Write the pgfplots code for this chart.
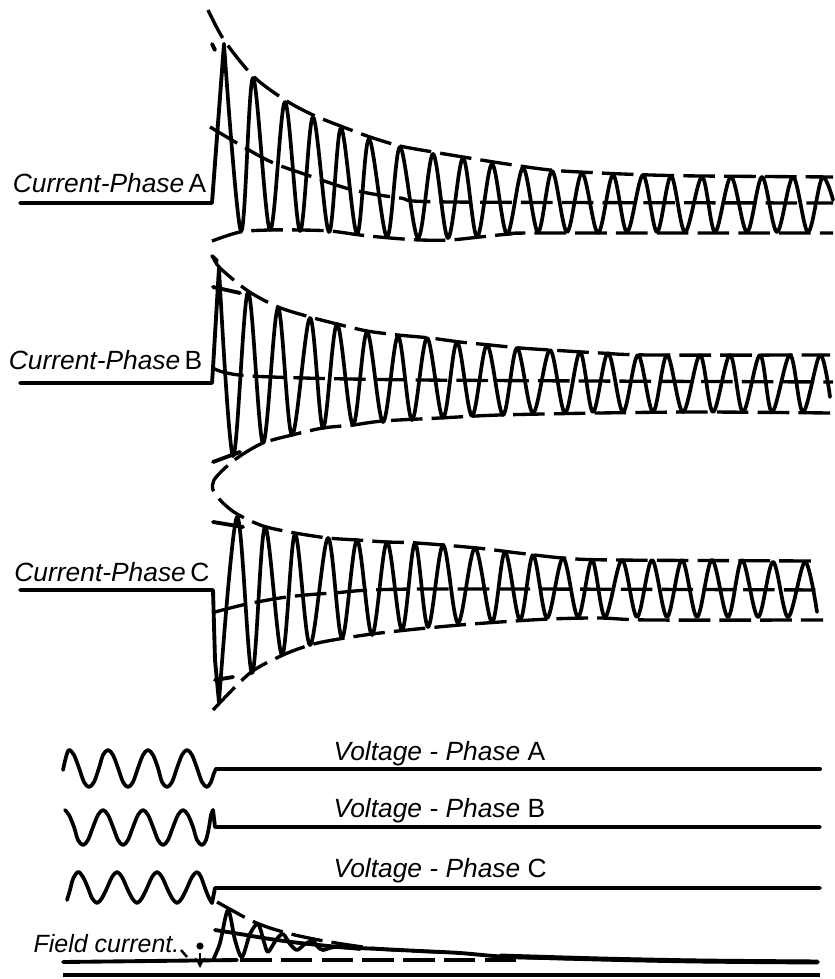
\documentclass[border=0pt]{standalone}
\usepackage{pgfplots}
\pgfplotsset{compat=1.18}
\usetikzlibrary{arrows.meta}
\usepackage{fontspec}
\setmainfont{Liberation Sans}
\newcommand{\lbl}{\fontsize{7.5}{9}\selectfont}
\tikzset{
  wv/.style={black,line width=1.05pt,line join=round,line cap=round,smooth,tension=0.55,mark=none},
  st/.style={black,line width=1.1pt,line join=round,line cap=round,mark=none},
  envd/.style={black,line width=0.95pt,dash pattern=on 9pt off 2.6pt,smooth,mark=none},
}
\begin{document}
\begin{tikzpicture}
\begin{axis}[width=8.33cm,height=9.79cm,scale only axis,
  xmin=0,xmax=833,ymin=0,ymax=979,y dir=reverse,hide axis,clip=false]
\addplot[draw=none] coordinates {(0,0)(833,979)};

% ---------------- Current - Phase A ----------------
\addplot[st] coordinates {(20,203)(212,203)(224,44)};
\addplot[wv] coordinates {(224,44)(241,231)(253,78)(270,230)(285,102)(300,231)(313,117)(329,232)(341,128)(357,234)(369,139)(387,237)(400,147)(418,238)(433,154)(448,238)(463,158)(477,237)(492,164)(507,234)(523,168)(538,232)(552,171)(567,232)(582,173)(598,233)(613,175)(627,232)(643,175)(657,232)(671,176)(685,232)(702,177)(715,232)(731,177)(747,232)(762,177)(777,232)(793,177)(808,232)(822,178)(833,200)};
\addplot[envd] coordinates {(208,10)(224,40)(253,76)(285,100)(313,115)(343,127)(370,137)(400,146)(433,152)(463,157)(500,163)(550,170)(600,173)(650,175)(700,176)(833,177)};
\addplot[envd] coordinates {(212,241)(240,232)(270,230)(300,230)(330,231)(360,235)(390,238)(420,240)(450,240)(480,237)(510,234)(540,233)(833,233)};
\addplot[envd] coordinates {(210,127)(267,160)(307,175)(353,190)(400,198)(450,202)(833,203)};
\addplot[st] coordinates {(212,256)(217,261)};
\addplot[st] coordinates {(212,44)(215,50)};

% ---------------- Current - Phase B ----------------
\addplot[st] coordinates {(20,383)(212,383)(213,368)(219,268)};
\addplot[wv] coordinates {(219,268)(233,456)(248,292)(263,443)(278,308)(292,435)(310,318)(323,428)(337,324)(353,425)(367,332)(383,422)(398,336)(412,420)(427,338)(443,418)(457,342)(472,416)(487,345)(503,415)(517,348)(533,413)(550,350)(565,413)(580,352)(593,412)(608,353)(623,412)(638,355)(653,412)(667,355)(683,412)(700,355)(713,412)(730,355)(743,412)(760,355)(772,412)(790,355)(803,412)(820,355)(830,397)};
\addplot[envd] coordinates {(213,257)(220,268)(248,291)(278,307)(310,317)(337,324)(367,331)(398,335)(430,338)(460,342)(490,345)(520,348)(550,350)(600,353)(650,355)(830,355)};
\addplot[envd] coordinates {(213,368)(250,376)(420,380)(833,382)};
\addplot[st] coordinates {(213,287)(240,293)};
\addplot[st] coordinates {(213,462)(240,452)};
% lower envelope of B turning into upper envelope of C
\addplot[envd] coordinates {(830,413)(700,412)(600,413)(500,415)(440,418)(383,421)(353,425)(323,428)(292,435)(263,443)(240,456)(225,468)(214,480)(213,490)(222,502)(237,514)(263,526)(295,533)(328,538)(357,540)(387,542)(417,543)(477,548)(518,553)(563,558)(613,560)(815,561)};

% ---------------- Current - Phase C ----------------
\addplot[st] coordinates {(20,590)(213,590)(215,660)(219,702)};
\addplot[wv] coordinates {(219,702)(237,517)(252,673)(265,527)(282,655)(295,534)(310,645)(328,538)(342,638)(357,540)(372,635)(387,542)(402,630)(415,543)(428,627)(443,545)(458,623)(475,548)(492,622)(505,552)(520,620)(533,555)(547,618)(563,558)(578,617)(592,560)(605,617)(622,560)(637,617)(652,560)(667,617)(682,560)(697,617)(712,560)(728,617)(742,560)(758,617)(773,562)(788,617)(805,562)(817,612)};
\addplot[envd] coordinates {(213,710)(250,673)(283,655)(310,645)(333,640)(372,634)(417,629)(460,625)(500,622)(550,619)(600,618)(650,620)(823,620)};
\addplot[envd] coordinates {(215,612)(247,604)(287,597)(333,593)(420,589)(822,590)};
\addplot[st] coordinates {(213,522)(243,527)};
\addplot[st] coordinates {(215,680)(233,677)};

% ---------------- Voltages ----------------
\addplot[wv] coordinates {(63,770)(66,757)(69,750)(74,755)(79,768)(84,782)(89,787)(94,782)(99,768)(103,755)(108,750)(113,755)(118,768)(123,782)(128,787)(133,782)(138,768)(143,755)(148,750)(153,755)(158,768)(162,782)(167,787)(172,782)(177,768)(182,755)(187,750)(192,755)(197,768)(202,782)(207,787)(211,782)(214,773)(216,769)};
\addplot[st] coordinates {(216,769)(820,769)};
\addplot[wv] coordinates {(65,810)(69,815)(74,827)(78,840)(83,845)(88,840)(93,827)(98,815)(103,810)(108,815)(113,827)(118,840)(123,845)(128,840)(133,827)(138,815)(143,810)(148,815)(153,827)(158,840)(163,845)(168,840)(173,827)(178,815)(183,810)(188,815)(193,827)(197,840)(202,845)(206,840)(209,827)(211,815)(213,810)};
\addplot[st] coordinates {(213,810)(215,827)(820,827)};
\addplot[wv] coordinates {(67,900)(70,890)(73,879)(78,872)(83,877)(88,888)(92,898)(97,903)(102,898)(107,888)(112,877)(117,872)(122,877)(127,888)(132,898)(137,903)(142,898)(147,888)(152,877)(157,872)(162,877)(167,888)(172,898)(177,903)(182,898)(187,888)(192,877)(197,872)(201,877)(205,888)(209,898)(212,903)};
\addplot[st] coordinates {(212,903)(215,888)(820,888)};

% ---------------- Field current ----------------
\addplot[st] coordinates {(63,962)(237,960)};
\addplot[envd] coordinates {(240,960)(520,960)};
\addplot[wv,tension=0.5] coordinates {(213,960)(220,943)(228,910)(235,940)(242,957)(250,934)(258,924)(264,942)(268,952)(276,940)(283,934)(290,944)(297,950)(305,944)(313,941)(318,947)(323,950)(335,947)(360,949)};
\addplot[st,smooth] coordinates {(215,930)(240,934)(270,939)(300,943)(340,947)(380,949)(420,951)(460,953)(510,957)(600,959)(700,961)(818,962)};
\addplot[black,line width=1.4pt,mark=none,smooth] coordinates {(500,956)(600,959)(700,961)(818,962)};
\addplot[envd] coordinates {(217,902)(235,912)(252,921)(270,928)(295,935)(330,942)(380,949)(440,952)};
\addplot[black,line width=1.4pt,mark=none] coordinates {(63,975)(820,975)};
\addplot[black,line width=0.7pt,mark=none,-{Stealth[length=3pt,width=3pt]}] coordinates {(200,953)(200,968)};
\addplot[black,line width=0.7pt,mark=none] coordinates {(181,950)(187,957)};
\addplot[black,only marks,mark=*,mark size=0.8pt] coordinates {(200,946)};

% ---------------- Labels ----------------
\node[anchor=base east,font=\lbl,inner sep=0pt] at (axis cs:207,193) {\itshape Current-Phase\,\upshape A};
\node[anchor=base east,font=\lbl,inner sep=0pt] at (axis cs:203,370) {\itshape Current-Phase\,\upshape B};
\node[anchor=base east,font=\lbl,inner sep=0pt] at (axis cs:210,582) {\itshape Current-Phase\,\upshape C};
\node[anchor=base west,font=\lbl,inner sep=0pt] at (axis cs:333,760) {\itshape Voltage - Phase \upshape A};
\node[anchor=base west,font=\lbl,inner sep=0pt] at (axis cs:333,817) {\itshape Voltage - Phase \upshape B};
\node[anchor=base west,font=\lbl,inner sep=0pt] at (axis cs:333,877) {\itshape Voltage - Phase \upshape C};
\node[anchor=base west,font=\fontsize{7.1}{9}\selectfont,inner sep=0pt] at (axis cs:33,952) {\itshape Field current.};
\end{axis}
\end{tikzpicture}
\end{document}
